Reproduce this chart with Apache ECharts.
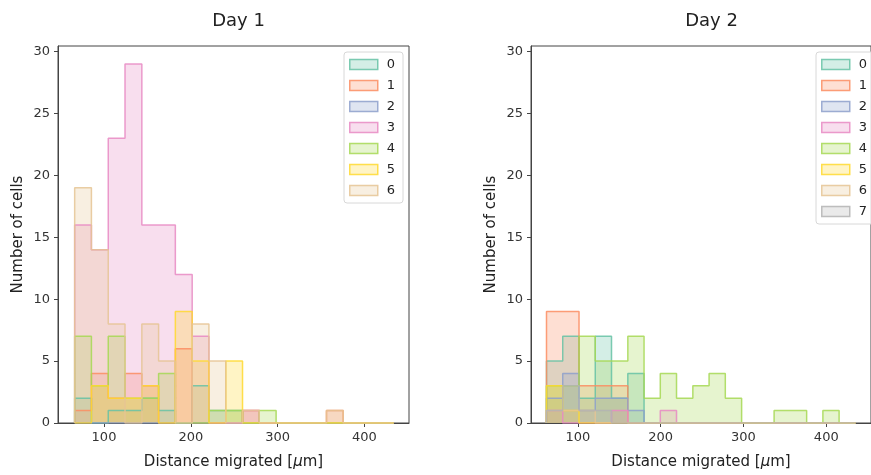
<!DOCTYPE html>
<html><head><meta charset="utf-8">
<script src="https://cdn.jsdelivr.net/npm/echarts@6/dist/echarts.min.js"></script>
<style>html,body{margin:0;padding:0;background:#fff}#c{width:871px;height:475px}</style>
</head><body><div id="c"></div>
<script>
// ---- data ----
const groupNames = ['0','1','2','3','4','5','6','7'];
const xTicks = [100, 200, 300, 400];
const yTicks = [0, 5, 10, 15, 20, 25, 30];
const panelTitles = ['Day 1', 'Day 2'];

// histogram bin edges (µm)
const day1Edges = [66.2, 85.5, 104.9, 124.2, 143.6, 162.9, 182.2, 201.6, 220.9, 240.3, 259.6, 278.9, 298.3, 317.6, 337.0, 356.3, 375.6, 395.0, 414.3, 433.7];
const day2Edges = [62.2, 81.8, 101.5, 121.1, 140.7, 160.4, 180.0, 199.6, 219.2, 238.9, 258.5, 278.1, 297.8, 317.4, 337.0, 356.7, 376.3, 395.9, 415.5, 435.2];

// Day 1 counts per group
const day1_g0 = [2,0,1,1,2,1,0,3,1,1,0,0,0,0,0,0,0,0,0];
const day1_g1 = [1,4,2,4,3,0,6,0,0,0,1,0,0,0,0,1,0,0,0];
const day1_g2 = [0,0,0,0,0,0,0,0,0,0,0,0,0,0,0,0,0,0,0];
const day1_g3 = [16,14,23,29,16,16,12,7,0,0,1,0,0,0,0,0,0,0,0];
const day1_g4 = [7,3,7,2,2,4,0,0,1,1,0,1,0,0,0,0,0,0,0];
const day1_g5 = [0,3,2,2,3,0,9,5,0,5,0,0,0,0,0,0,0,0,0];
const day1_g6 = [19,14,8,0,8,5,0,8,5,0,1,0,0,0,0,1,0,0,0];

// Day 2 counts per group
const day2_g0 = [5,7,2,7,2,4,0,0,0,0,0,0,0,0,0,0,0,0,0];
const day2_g1 = [9,9,3,3,3,0,0,0,0,0,0,0,0,0,0,0,0,0,0];
const day2_g2 = [2,4,1,2,2,1,0,0,0,0,0,0,0,0,0,0,0,0,0];
const day2_g3 = [1,0,0,0,1,0,0,1,0,0,0,0,0,0,0,0,0,0,0];
const day2_g4 = [3,3,7,5,5,7,2,4,2,3,4,2,0,0,1,1,0,1,0];
const day2_g5 = [3,1,0,0,0,0,0,0,0,0,0,0,0,0,0,0,0,0,0];
const day2_g6 = [1,1,1,0,0,0,0,0,0,0,0,0,0,0,0,0,0,0,0];
const day2_g7 = [1,3,1,1,0,0,0,0,0,0,0,0,0,0,0,0,0,0,0];

const day1Groups = [day1_g0, day1_g1, day1_g2, day1_g3, day1_g4, day1_g5, day1_g6];
const day2Groups = [day2_g0, day2_g1, day2_g2, day2_g3, day2_g4, day2_g5, day2_g6, day2_g7];

// ---- styles ----
const palette = ['#66c2a5','#fc8d62','#8da0cb','#e78ac3','#a6d854','#ffd92f','#e5c494','#b3b3b3'];
const FONT = 'DejaVu Sans';
const FILL_A = 0.28;

function hexA(h, a){
  const r = parseInt(h.slice(1,3),16), g = parseInt(h.slice(3,5),16), b = parseInt(h.slice(5,7),16);
  return `rgba(${r},${g},${b},${a})`;
}
function steps(edges, counts){
  const pts = [[edges[0], 0]];
  for (let i = 0; i < counts.length; i++) pts.push([edges[i], counts[i]]);
  pts.push([edges[counts.length], counts[counts.length-1]]);
  pts.push([edges[counts.length], 0]);
  return pts;
}

const series = [];
[[day1Groups, day1Edges], [day2Groups, day2Edges]].forEach(([groups, edges], k) => {
  groups.forEach((cnt, i) => {
    series.push({
      type: 'line', name: groupNames[i], xAxisIndex: k, yAxisIndex: k,
      data: steps(edges, cnt), step: 'end', symbol: 'none', silent: true,
      lineStyle: { color: palette[i], width: 1.5, opacity: 0.85 },
      itemStyle: { color: palette[i] },
      areaStyle: { color: palette[i], opacity: FILL_A, origin: 'start' },
      z: 2
    });
  });
});

function legendData(n){
  return groupNames.slice(0, n).map((g, i) => ({
    name: g, icon: 'rect',
    itemStyle: { color: hexA(palette[i], FILL_A), borderColor: hexA(palette[i], 0.85), borderWidth: 1.5 }
  }));
}
const legendCommon = {
  orient: 'vertical', itemWidth: 28, itemHeight: 10, itemGap: 8,
  padding: [6, 8, 6, 5], borderColor: '#d8d8d8', borderWidth: 1, borderRadius: 3,
  backgroundColor: 'rgba(255,255,255,0.8)', selectedMode: false,
  textStyle: { fontFamily: FONT, fontSize: 13, color: '#222', padding: [0,0,0,4] }
};

const grids = [
  { left: 58, top: 46, width: 351, height: 380 },
  { left: 531, top: 46, width: 351, height: 380 }
];
const xRanges = [[47, 451.4], [43.5, 454]];

const option = {
  backgroundColor: '#fff',
  animation: false,
  title: panelTitles.map((t, k) => ({
    text: t, left: grids[k].left + grids[k].width / 2, top: 7, textAlign: 'center',
    textStyle: { fontFamily: FONT, fontSize: 18, fontWeight: 'normal', color: '#222' }
  })),
  grid: grids.map(g => Object.assign({ show: true, borderColor: '#444', borderWidth: 1, backgroundColor: 'transparent' }, g)),
  legend: [
    Object.assign({ left: 344, top: 52, data: legendData(7) }, legendCommon),
    Object.assign({ left: 816, top: 52, data: legendData(8) }, legendCommon)
  ],
  xAxis: [0, 1].map(k => ({
    type: 'value', gridIndex: k, min: xRanges[k][0], max: xRanges[k][1],
    name: 'Distance migrated [{i|μ}m]', nameLocation: 'middle', nameGap: 32,
    nameTextStyle: { fontFamily: FONT, fontSize: 15, color: '#222', rich: { i: { fontFamily: FONT, fontSize: 15, fontStyle: 'italic', color: '#222' } } },
    axisLine: { show: true, lineStyle: { color: '#444', width: 1 } },
    axisTick: { show: true, length: 4, lineStyle: { color: '#444' }, customValues: xTicks },
    axisLabel: { fontFamily: FONT, fontSize: 13, color: '#333', margin: 8, customValues: xTicks },
    splitLine: { show: false }
  })),
  yAxis: [0, 1].map(k => ({
    type: 'value', gridIndex: k, min: 0, max: 30.45,
    name: 'Number of cells', nameLocation: 'middle', nameGap: 32,
    nameTextStyle: { fontFamily: FONT, fontSize: 15, color: '#222' },
    axisLine: { show: true, lineStyle: { color: '#444', width: 1 } },
    axisTick: { show: true, length: 4, lineStyle: { color: '#444' }, customValues: yTicks },
    axisLabel: { fontFamily: FONT, fontSize: 13, color: '#333', margin: 8, customValues: yTicks },
    splitLine: { show: false }
  })),
  series: series
};

const chart = echarts.init(document.getElementById('c'), null, { renderer: 'canvas' });
chart.setOption(option);
</script>
</body></html>
